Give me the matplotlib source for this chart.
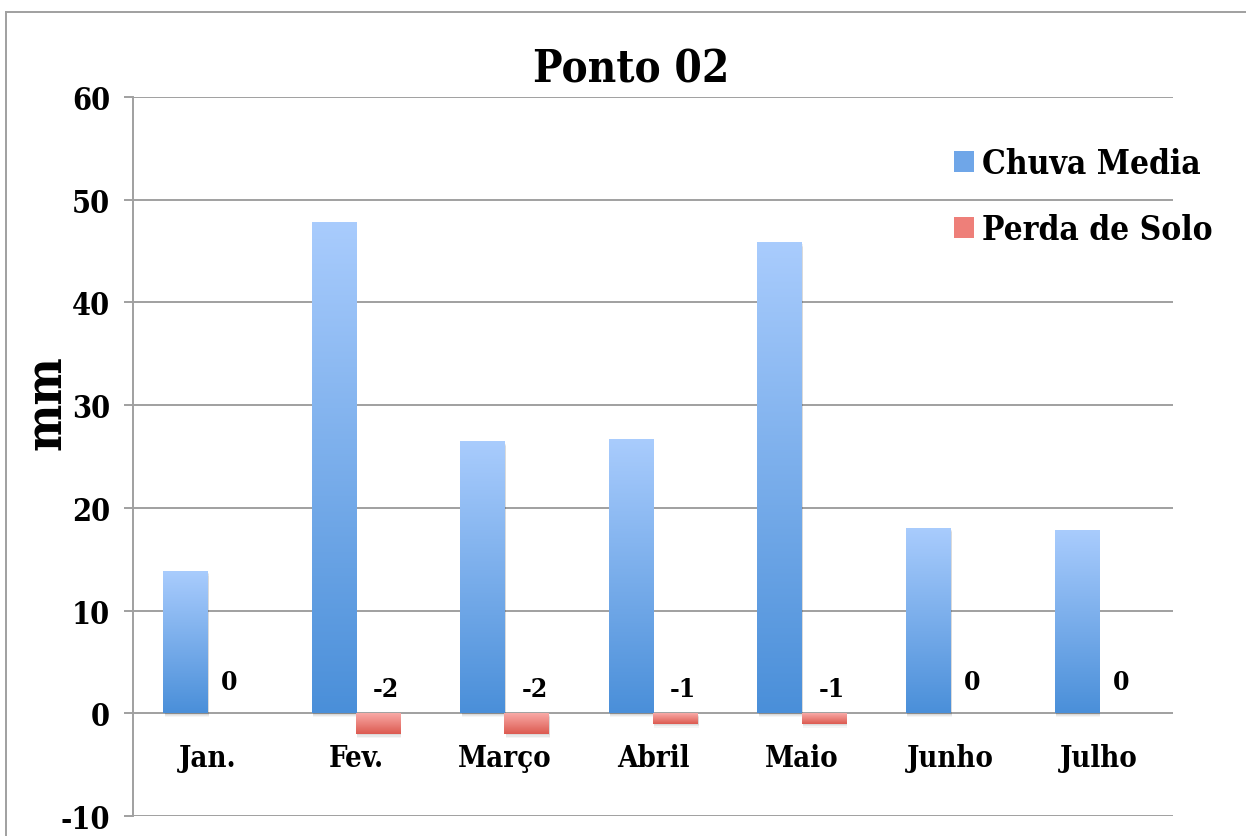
import numpy as np
import matplotlib
matplotlib.use("Agg")
import matplotlib.pyplot as plt
from matplotlib.colors import LinearSegmentedColormap
from matplotlib.patches import Patch, Rectangle
from matplotlib.lines import Line2D

# data
months = ["Jan.", "Fev.", "Março", "Abril", "Maio", "Junho", "Julho"]
chuva_media = [13.8, 47.8, 26.4, 26.6, 45.8, 18.0, 17.8]
perda_solo = [0, -2, -2, -1, -1, 0, 0]
perda_labels = ["0", "-2", "-2", "-1", "-1", "0", "0"]

plt.rcParams['font.family'] = ['DejaVu Serif']
plt.rcParams['font.weight'] = 'bold'
plt.rcParams['font.stretch'] = 'condensed'
plt.rcParams['axes.unicode_minus'] = False

grid_col = "#a0a0a0"
blue_cmap = LinearSegmentedColormap.from_list("b", ["#4a8fd9", "#a9ccfd"])
red_cmap = LinearSegmentedColormap.from_list("r", ["#dc5a50", "#f9aaa7"])
grad = np.linspace(0, 1, 256).reshape(-1, 1)

fig = plt.figure(figsize=(12.46, 8.37), dpi=100)
ax = fig.add_axes([0.1067, 0.0239, 0.8347, 0.859])

width = 0.297
x = np.arange(len(months))


def gradient_bar(xc, val, cmap):
    x0, x1 = xc - width / 2, xc + width / 2
    lo, hi = min(0, val), max(0, val)
    if hi - lo == 0:
        return
    # soft shadow
    for k, a in enumerate([0.06, 0.05, 0.04]):
        d = 0.15 + 0.12 * k
        ax.add_patch(Rectangle((x0 + 0.01, lo - d), width, hi - lo, color="k",
                               alpha=a, lw=0, zorder=2))
    ax.imshow(grad, extent=[x0, x1, lo, hi], origin="lower",
              aspect="auto", cmap=cmap, zorder=3)


for i in range(len(months)):
    gradient_bar(x[i] - width / 2, chuva_media[i], blue_cmap)
    gradient_bar(x[i] + width / 2, perda_solo[i], red_cmap)
    # data labels for Perda de Solo
    off = 19 if perda_solo[i] == 0 else 12
    dx = 0 if perda_solo[i] == 0 else 8
    ax.annotate(perda_labels[i], (x[i] + width / 2, 0), xytext=(dx * 0.72, off * 0.72),
                textcoords="offset points", ha="center", va="bottom",
                fontsize=19, fontweight="bold", zorder=5)

ax.set_xlim(-0.5, len(months) - 0.5)
ax.set_ylim(-10, 60)
ax.set_yticks(np.arange(-10, 61, 10))
ax.yaxis.grid(True, color=grid_col, lw=1.4)
ax.set_axisbelow(True)

for s in ["top", "right", "bottom"]:
    ax.spines[s].set_visible(False)
ax.spines["left"].set_color(grid_col)
ax.spines["left"].set_linewidth(1.4)
ax.tick_params(axis="y", length=6.5, width=1.4, color=grid_col, pad=10, labelsize=22)

# month labels sit under the zero line
ax.set_xticks(x)
ax.set_xticklabels([])
ax.tick_params(axis="x", length=0)
for i, m in enumerate(months):
    ax.annotate(m, (x[i], 0), xytext=(0, -30 * 0.72), textcoords="offset points",
                ha="center", va="top", fontsize=21, fontweight="bold")

ax.set_ylabel("mm", fontsize=36, fontweight="bold")
ax.yaxis.set_label_coords(-0.059, 0.577)

fig.text(631 / 1246, 1 - 70 / 837, "Ponto 02", ha="center", va="center",
         fontsize=31.5, fontweight="bold")

handles = [Patch(facecolor="#6fa6e8", edgecolor="none"),
           Patch(facecolor="#ee7f79", edgecolor="none")]
fig.legend(handles, ["Chuva Media", "Perda de Solo"], loc="upper left",
           bbox_to_anchor=(954 / 1246, 1 - 148 / 837), frameon=False,
           fontsize=24, handlelength=0.6, handleheight=0.6,
           handletextpad=0.25, labelspacing=1.0, borderpad=0, borderaxespad=0)

# outer chart border (left and top edges visible)
fig.add_artist(Line2D([6 / 1246, 6 / 1246], [0, 1 - 13 / 837], color="#a0a0a0",
                      lw=1.4, transform=fig.transFigure))
fig.add_artist(Line2D([6 / 1246, 1], [1 - 13 / 837, 1 - 13 / 837], color="#a0a0a0",
                      lw=1.4, transform=fig.transFigure))

fig.savefig("out.png", dpi=100)
